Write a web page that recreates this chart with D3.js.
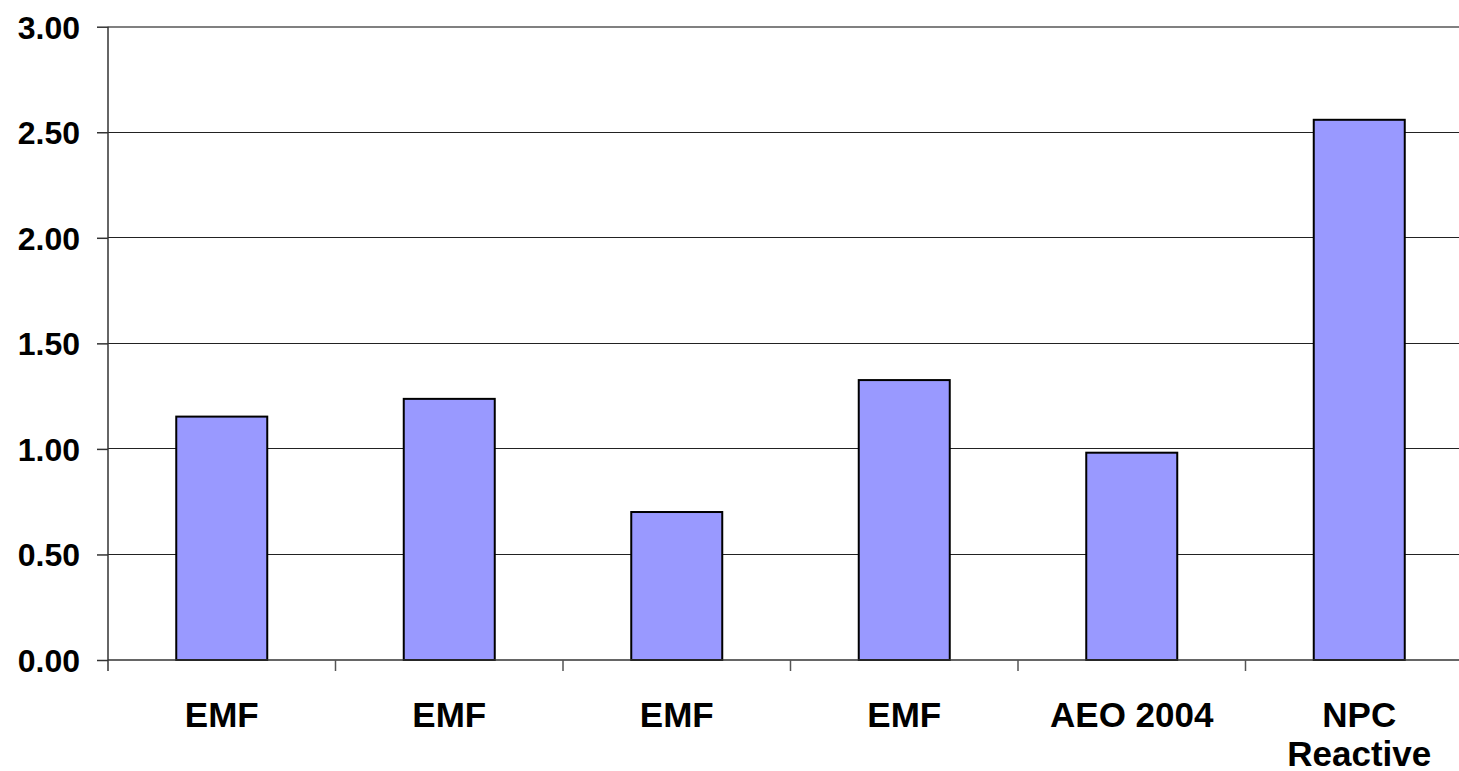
<!DOCTYPE html>
<html>
<head>
<meta charset="utf-8">
<script src="https://cdn.jsdelivr.net/npm/d3@7"></script>
<style>
  html, body { margin: 0; padding: 0; background: #fff; }
  svg { display: block; }
  text { font-family: "Liberation Sans", Arial, sans-serif; font-weight: bold; fill: #000; }
</style>
</head>
<body>
<svg id="chart" width="1459" height="771"></svg>
<script>
// data
var categories = ['EMF 1', 'EMF 2', 'EMF 3', 'EMF 4', 'AEO 2004', 'NPC Reactive'];
var labels = [['EMF'], ['EMF'], ['EMF'], ['EMF'], ['AEO 2004'], ['NPC', 'Reactive']];
var values = [1.153, 1.237, 0.701, 1.326, 0.982, 2.559];
var yTicks = [0, 0.5, 1, 1.5, 2, 2.5, 3];

var svg = d3.select('#chart'),
    plotLeft = 108,
    plotRight = 1473,
    plotTop = 26.7,
    plotBottom = 660;

var x = d3.scaleBand()
    .domain(categories)
    .range([plotLeft, plotRight])
    .paddingInner(0.6)
    .paddingOuter(0.3);

var y = d3.scaleLinear()
    .domain([0, 3])
    .range([plotBottom, plotTop]);

// gridlines
svg.append('g').attr('class', 'grid')
    .selectAll('line')
    .data(yTicks.filter(function(d){ return d > 0; }))
    .enter().append('line')
    .attr('x1', plotLeft)
    .attr('x2', plotRight)
    .attr('y1', function(d){ return y(d); })
    .attr('y2', function(d){ return y(d); })
    .attr('stroke', function(d){ return d === 3 ? '#808080' : '#222'; })
    .attr('stroke-width', function(d){ return d === 3 ? 2 : 1; })
    .attr('shape-rendering', 'crispEdges');

// bars
svg.append('g').attr('class', 'bars')
    .selectAll('rect')
    .data(values)
    .enter().append('rect')
    .attr('x', function(d, i){ return x(categories[i]); })
    .attr('y', function(d){ return y(d); })
    .attr('width', x.bandwidth())
    .attr('height', function(d){ return y(0) - y(d); })
    .attr('fill', '#9999ff')
    .attr('stroke', '#000')
    .attr('stroke-width', 2);

// y axis
var yAxis = svg.append('g')
    .attr('transform', 'translate(' + plotLeft + ',0)')
    .call(d3.axisLeft(y).tickValues(yTicks).tickSize(11).tickPadding(17)
        .tickFormat(d3.format('.2f')));
yAxis.select('.domain').attr('stroke', '#333').attr('stroke-width', 1.5)
    .attr('d', 'M0,' + plotTop + 'V' + (plotBottom + 11));
yAxis.selectAll('.tick line').attr('stroke', '#333').attr('stroke-width', 1.5);
yAxis.selectAll('.tick text')
    .style('font-size', '32px')
    .style('font-family', '"Liberation Sans", Arial, sans-serif')
    .style('font-weight', 'bold')
    .attr('fill', '#000')
    .attr('dy', '0.36em');

// x axis: ticks sit on band boundaries
var step = x.step();
var bounds = d3.range(categories.length).map(function(i){ return plotLeft + i * step; });
var xg = svg.append('g').attr('class', 'x-axis');
xg.append('line')
    .attr('x1', plotLeft).attr('x2', plotRight)
    .attr('y1', plotBottom).attr('y2', plotBottom)
    .attr('stroke', '#333').attr('stroke-width', 1.5);
xg.selectAll('.xtick')
    .data(bounds.slice(1))
    .enter().append('line')
    .attr('class', 'xtick')
    .attr('x1', function(d){ return d; })
    .attr('x2', function(d){ return d; })
    .attr('y1', plotBottom)
    .attr('y2', plotBottom + 11)
    .attr('stroke', '#555').attr('stroke-width', 1.5);

xg.selectAll('.xlabel')
    .data(labels)
    .enter().append('text')
    .attr('class', 'xlabel')
    .attr('text-anchor', 'middle')
    .style('font-size', '35px')
    .attr('transform', function(d, i){
        return 'translate(' + (x(categories[i]) + x.bandwidth() / 2) + ',' + 727 + ')';
    })
    .selectAll('tspan')
    .data(function(d){ return d; })
    .enter().append('tspan')
    .attr('x', 0)
    .attr('y', function(d, i){ return i * 39; })
    .text(function(d){ return d; });
</script>
</body>
</html>
